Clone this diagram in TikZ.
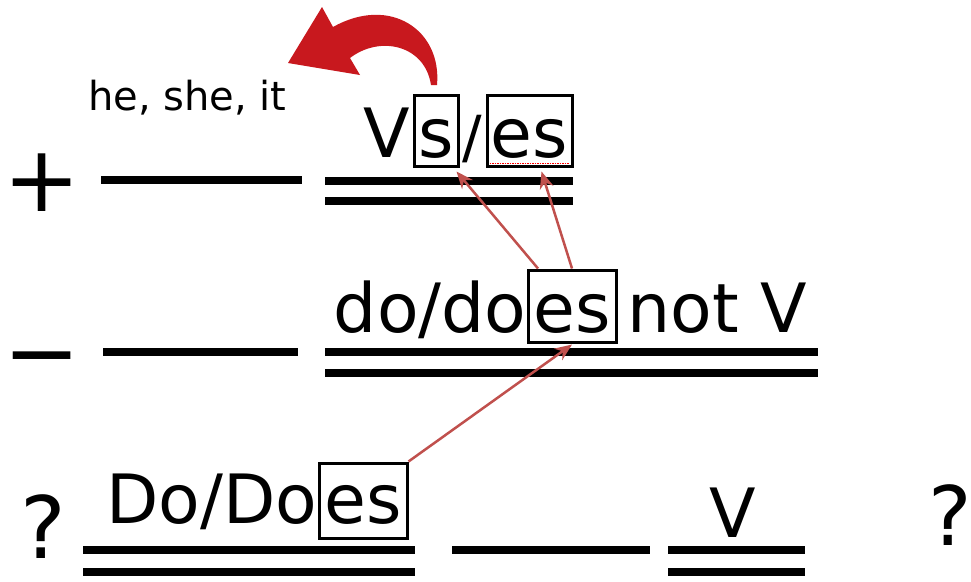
\documentclass[tikz,border=0pt]{standalone}
\usepackage{fontspec}
\setmainfont{DejaVu Sans}
\usetikzlibrary{arrows.meta,calc}
\definecolor{hintred}{RGB}{192,80,77}
\definecolor{bigred}{RGB}{200,24,30}

\begin{document}
\begin{tikzpicture}[x=1pt, y=-1pt,
    every node/.style={inner sep=0pt},
    word/.style={font=\fontsize{68}{72}\selectfont},
    sign/.style={font=\fontsize{92}{92}\selectfont, anchor=base},
    suffix/.style={draw, line width=3pt, word, text height=62pt, text depth=9pt},
    bar/.style={line width=8pt},
    hint/.style={hintred, line width=2.5pt, -{Stealth[length=17pt, width=14pt]}}]
    \useasboundingbox (0,0) rectangle (971,581);

    % plus row
    \node[sign] (plus) at (42,211) {+};
    \draw[bar] (101,180) -- (302,180);
    \draw[bar] (325,181) -- (573,181);
    \draw[bar] (325,201) -- (573,201);
    \node[font=\fontsize{40}{44}\selectfont, anchor=base west] (who) at (88,110) {he, she, it};
    \node[suffix, minimum width=44pt, anchor=base] (s1) at (436,157) {s};
    \node[suffix, minimum width=85pt, anchor=base] (es1) at (529.5,157) {es};
    \node[word, anchor=base east, xshift=-2pt] (v1) at (s1.base west) {V};
    \node[font=\fontsize{58}{60}\selectfont, anchor=base] (slash1) at ($(s1.base east)!0.5!(es1.base west)$) {/};
    \draw[red, densely dotted, line width=1.5pt] ([xshift=4pt, yshift=4pt]es1.south west) -- ([xshift=-4pt, yshift=4pt]es1.south east);

    % big red arrow back to the subject
    \fill[bigred] (437,85) .. controls (442,30) and (390,-5) .. (333,27) -- (322,7) -- (288,63) -- (360,75) -- (350,58) .. controls (380,35) and (425,45) .. (431,85) -- cycle;

    % minus row
    \node[sign] (minus) at (42,384) {−};
    \draw[bar] (103,352) -- (298,352);
    \draw[bar] (325,352) -- (818,352);
    \draw[bar] (325,373) -- (818,373);
    \node[suffix, minimum width=88pt, text depth=10pt, anchor=base] (es2) at (572,332) {es};
    \node[word, anchor=base east] (do2) at (es2.base west) {do/do};
    \node[word, anchor=base west, xshift=10pt] (not2) at (es2.base east) {not V};

    % question row
    \node[font=\fontsize{86}{86}\selectfont, anchor=base west] (q1) at (20,558) {?};
    \draw[bar] (83,550) -- (415,550);
    \draw[bar] (83,572) -- (415,572);
    \draw[bar] (452,550) -- (650,550);
    \draw[bar] (668,550) -- (805,550);
    \draw[bar] (668,572) -- (805,572);
    \node[suffix, minimum width=88pt, text height=60pt, text depth=15pt, anchor=base] (es3) at (363,523) {es};
    \node[word, anchor=base east] (do3) at (es3.base west) {Do/Do};
    \node[word, anchor=base] (v3) at (733,537) {V};
    \node[font=\fontsize{82}{82}\selectfont, anchor=base west] (q2) at (928,545) {?};

    % es arrows
    \draw[hint] ([xshift=-34pt]es2.north) -- ([xshift=-3pt, yshift=-4pt]s1.south east);
    \draw[hint] (es2.north) -- ([xshift=12pt, yshift=-4pt]es1.south);
    \draw[hint] (es3.north east) -- ([yshift=-1pt]es2.south);
\end{tikzpicture}
\end{document}
